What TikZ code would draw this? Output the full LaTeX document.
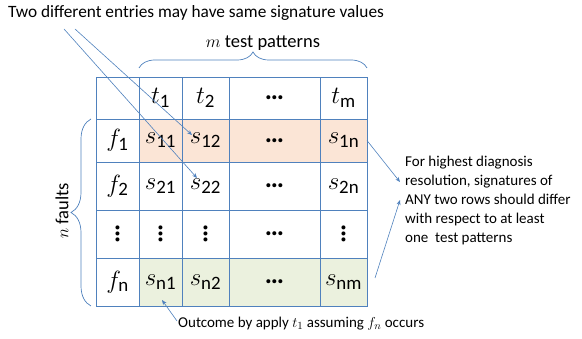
\documentclass[tikz,border=0pt]{standalone}
\usepackage{amsmath}
\usepackage{fontspec}
\setmainfont{Carlito}
\usetikzlibrary{arrows.meta,positioning,calc,decorations.pathreplacing}
\definecolor{SigBlue}{HTML}{4F81BD}
\definecolor{SigPeach}{HTML}{FBE5D6}
\definecolor{SigGreen}{HTML}{EBF1DE}
\newcommand{\hdts}{\textbf{…}}
\newcommand{\vdts}{\rotatebox{90}{\textbf{…}}}

\begin{document}
\begin{tikzpicture}[x=1pt, y=-1pt,
  cell/.style={draw=SigBlue, line width=0.9pt, fill=white, outer sep=0pt, inner sep=0pt, minimum height=#1, font=\fontsize{27}{27}\selectfont},
  brace/.style={draw=SigBlue, line width=0.7pt, decorate, decoration={brace, amplitude=#1}},
  arrow/.style={-{Stealth[length=5pt,width=4pt]}, draw=SigBlue, line width=0.6pt},
  note/.style={align=left, inner sep=0pt, font=\fontsize{15}{19}\selectfont}
]
  \useasboundingbox (0,0) rectangle (582,339);

  % signature table, one row per pass
  \foreach \r/\yt/\h/\rowc/\ca/\cb/\cc/\cd/\ce in {
    0/77/42/white/{}/{$t_{\text{1}}$}/{$t_{\text{2}}$}/{\hdts}/{$t_{\text{m}}$},
    1/119/43/SigPeach/{$f_{\text{1}}$}/{$s_{\text{11}}$}/{$s_{\text{12}}$}/{\hdts}/{$s_{\text{1n}}$},
    2/162/48/white/{$f_{\text{2}}$}/{$s_{\text{21}}$}/{$s_{\text{22}}$}/{\hdts}/{$s_{\text{2n}}$},
    3/210/48/white/{\vdts}/{\vdts}/{\vdts}/{\hdts}/{\vdts},
    4/258/48/SigGreen/{$f_{\text{n}}$}/{$s_{\text{n1}}$}/{$s_{\text{n2}}$}/{\hdts}/{$s_{\text{nm}}$}}
  {
    \node[cell=\h, minimum width=43, anchor=north west] (c\r-0) at (96,\yt) {\ca};
    \node[cell=\h, fill=\rowc, minimum width=43, right=0pt of c\r-0] (c\r-1) {\cb};
    \node[cell=\h, fill=\rowc, minimum width=47, right=0pt of c\r-1] (c\r-2) {\cc};
    \node[cell=\h, fill=\rowc, minimum width=91, right=0pt of c\r-2] (c\r-3) {\cd};
    \node[cell=\h, fill=\rowc, minimum width=47, right=0pt of c\r-3] (c\r-4) {\ce};
  }

  % braces and their labels
  \draw[brace=16] ($(c0-1.north west)+(0,-9)$) -- ($(c0-4.north east)+(0,-9)$);
  \draw[brace=20] ($(c4-0.south west)+(-5,0)$) -- ($(c1-0.north west)+(-5,0)$);
  \node[font=\fontsize{18.5}{22}\selectfont] (mlab) at (263,43) {$m$ test patterns};
  \node[font=\fontsize{18.5}{22}\selectfont, rotate=90] (nlab) at (62,211) {$n$ faults};

  % callouts
  \node[font=\fontsize{17.3}{20}\selectfont, anchor=west, inner sep=0pt] (dup) at (8,13) {Two different entries may have same signature values};
  \node[note, anchor=west] (note) at (405,201) {For highest diagnosis\\resolution, signatures of\\ANY two rows should differ\\with respect to at least\\one\ \ test patterns};
  \node[font=\fontsize{15}{18}\selectfont, anchor=west, inner sep=0pt] (outcome) at (178,324) {Outcome by apply $t_1$ assuming $f_n$ occurs};

  \coordinate (dupA) at (64,29);
  \coordinate (dupB) at (75,29);
  \draw[arrow] (dupA) -- ($(c2-2.north west)+(15,16)$);
  \draw[arrow] (dupB) -- ($(c1-2.north west)+(10,16)$);
  \draw[arrow] (c1-4.east) -- ($(note.west)+(-5,-19)$);
  \draw[arrow] ($(c4-4.east)+(8,-4)$) -- ($(note.west)+(-5,-1)$);
  \draw[arrow] ($(outcome.west)+(-1,-3)$) -- ($(c4-1.south)+(1.5,-6)$);
\end{tikzpicture}
\end{document}
